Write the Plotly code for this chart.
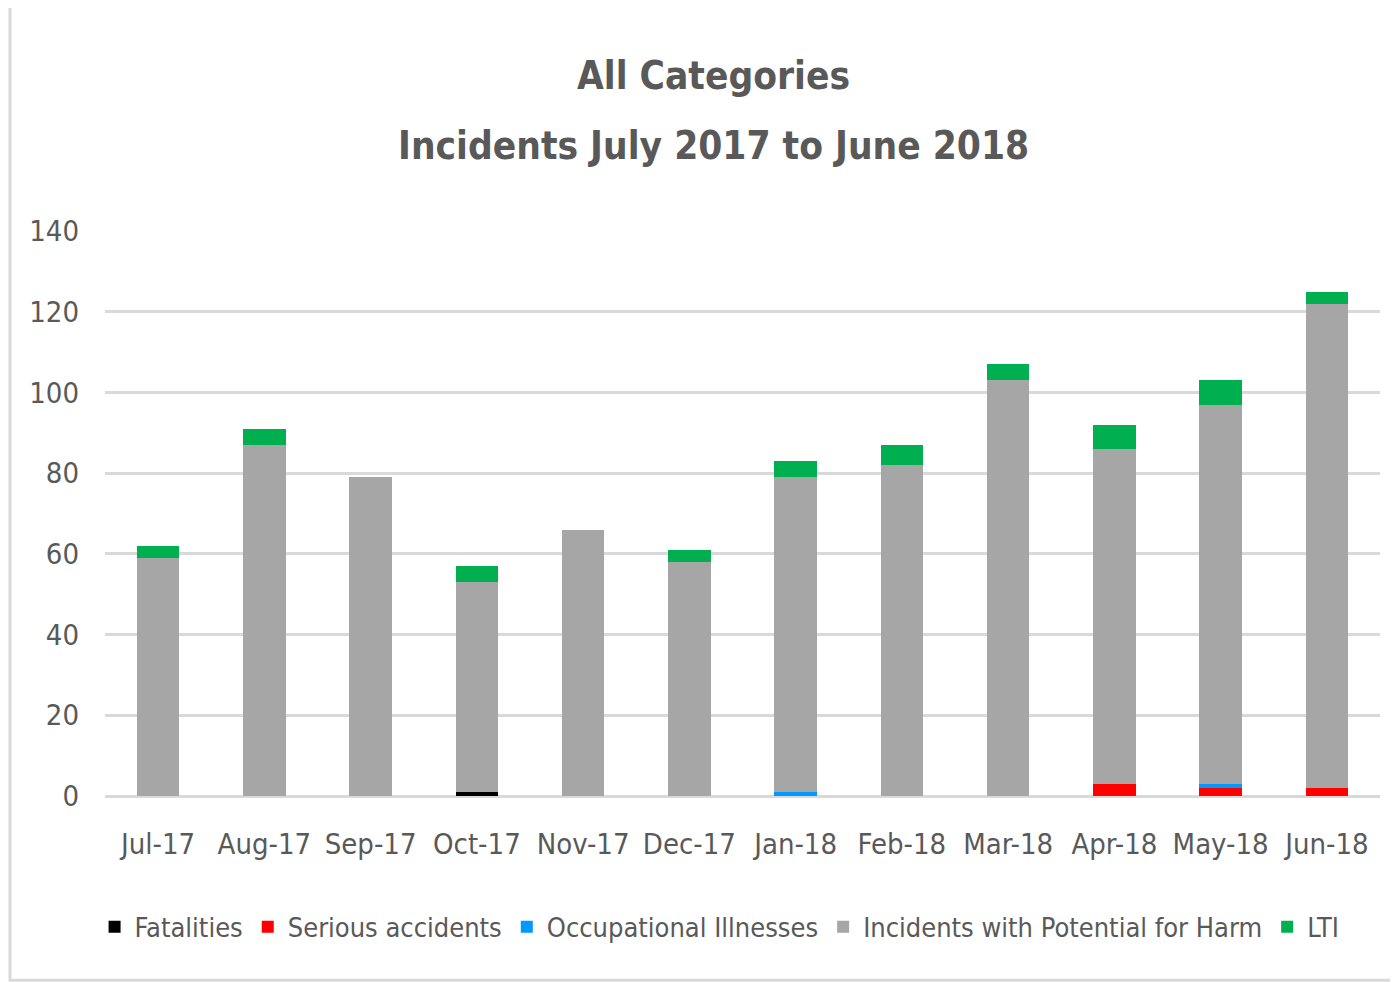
import plotly.graph_objects as go

# Datos
months = ['Jul-17', 'Aug-17', 'Sep-17', 'Oct-17', 'Nov-17', 'Dec-17',
          'Jan-18', 'Feb-18', 'Mar-18', 'Apr-18', 'May-18', 'Jun-18']
fatalities = [0, 0, 0, 1, 0, 0, 0, 0, 0, 0, 0, 0]
serious = [0, 0, 0, 0, 0, 0, 0, 0, 0, 3, 2, 2]
occupational = [0, 0, 0, 0, 0, 0, 1, 0, 0, 0, 1, 0]
potential_harm = [59, 87, 79, 52, 66, 58, 78, 82, 103, 83, 94, 120]
lti = [3, 4, 0, 4, 0, 3, 4, 5, 4, 6, 6, 3]

FONT = 'DejaVu Sans Condensed, Liberation Sans Narrow, sans-serif'
TXT = '#595959'

series = [
    ('Fatalities', fatalities, '#000000'),
    ('Serious accidents', serious, '#ff0000'),
    ('Occupational Illnesses', occupational, '#0099ff'),
    ('Incidents with Potential for Harm', potential_harm, '#a6a6a6'),
    ('LTI', lti, '#00b050'),
]

fig = go.Figure()
for name, vals, color in series:
    fig.add_trace(go.Bar(
        x=months, y=vals, name=name,
        marker=dict(color=color, line=dict(width=0)),
        hovertemplate='<b>' + name + '</b><br>%{x}: %{y}<extra></extra>'
    ))

fig.update_layout(
    barmode='stack',
    bargap=0.6,
    width=1398, height=982,
    margin=dict(l=97, r=26, t=223, b=194, autoexpand=False),
    paper_bgcolor='white',
    plot_bgcolor='white',
    font=dict(family=FONT, color=TXT, size=29),
    legend=dict(
        orientation='h', x=0.509, xanchor='center', xref='container',
        y=0.064, yanchor='middle', yref='container',
        font=dict(size=27, color=TXT, family=FONT),
        itemwidth=30, traceorder='normal', tracegroupgap=0
    ),
    showlegend=True,
)

# Titulo en dos lineas
fig.add_annotation(text='<b>All Categories</b>', xref='paper', yref='paper',
                   x=0.4776, y=1.276, showarrow=False, yanchor='middle',
                   font=dict(size=38.5, color=TXT, family=FONT))
fig.add_annotation(text='<b>Incidents July 2017 to June 2018</b>', xref='paper', yref='paper',
                   x=0.4776, y=1.152, showarrow=False, yanchor='middle',
                   font=dict(size=38.5, color=TXT, family=FONT))

fig.update_yaxes(
    range=[0, 140], dtick=20,
    showgrid=True, gridcolor='#d9d9d9', gridwidth=3,
    zeroline=True, zerolinecolor='#d9d9d9', zerolinewidth=3,
    showline=False, ticks='', ticklabelstandoff=25,
    tickfont=dict(size=29, color=TXT, family=FONT)
)
fig.update_xaxes(
    showgrid=False, showline=False, ticks='', ticklabelstandoff=28,
    tickfont=dict(size=29, color=TXT, family=FONT)
)

# Marco del area del grafico
fig.add_shape(type='rect', xref='paper', yref='paper',
              x0=-0.0745, x1=1.03, y0=-0.326, y1=1.398,
              line=dict(color='#d9d9d9', width=3), fillcolor='rgba(0,0,0,0)',
              layer='below')

fig.write_html('out.html')
